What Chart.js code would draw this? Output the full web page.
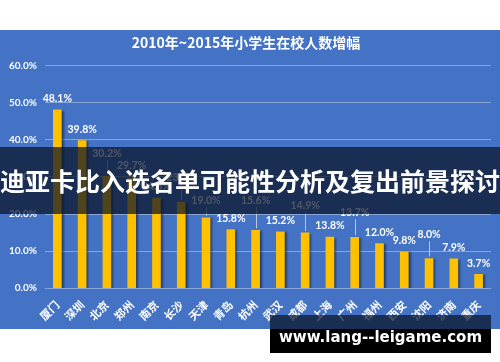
<!DOCTYPE html>
<html lang="zh">
<head>
	<meta charset="UTF-8">
	<title>小学生在校人数增幅</title>
	<script src="https://cdn.jsdelivr.net/npm/chart.js@4.4.0/dist/chart.umd.min.js"></script>
	<style>
		body{margin:0;width:500px;height:362px;background:#fff;position:relative;overflow:hidden;font-family:"Noto Sans CJK SC",sans-serif;}
		#box{position:absolute;left:0;top:30px;width:500px;height:299px;background:#4472C4;}
		#banner{position:absolute;left:0;top:147px;width:500px;height:67px;background:rgba(10,20,40,0.72);
			color:#fff;font:bold 25px "Noto Sans CJK SC";line-height:67px;text-align:center;white-space:nowrap;}
		#mark{position:absolute;left:270px;top:315px;width:221px;height:38px;
			background:linear-gradient(to bottom,rgba(10,20,40,0.72) 0,rgba(10,20,40,0.72) 14px,#000 14px);
			color:#fff;font:bold 15px "DejaVu Sans";line-height:44px;text-align:center;white-space:nowrap;}
	</style>
</head>
<body>
	<div id="box"><canvas id="chart"></canvas></div>
	<div id="banner">迪亚卡比入选名单可能性分析及复出前景探讨</div>
	<div id="mark">www.lang--leigame.com</div>

	<script>

		var title="2010年~2015年小学生在校人数增幅";
		var cities=["厦门","深圳","北京","郑州","南京","长沙","天津","青岛","杭州","武汉","成都","上海","广州","福州","西安","沈阳","济南","重庆"];
		var growth=[48.1,39.8,30.2,29.7,24.3,23.2,19.0,15.8,15.6,15.2,14.9,13.8,13.7,12.0,9.8,8.0,7.9,3.7];
		var yTicks=[0,10,20,30,40,50,60];

		// extra lift (px) for labels that sit on a leader line
		var lift=[0,0,12,1,0,14,6,0,19,0,16,0,14,0,0,13,0,0];

		var shadow={
			id:"shadow",
			beforeDatasetsDraw:function(chart){
				var ctx=chart.ctx;
				ctx.save();
				ctx.shadowColor="rgba(0,0,0,0.45)";
				ctx.shadowOffsetX=2;
				ctx.shadowOffsetY=1;
				ctx.shadowBlur=2;
			},
			afterDatasetsDraw:function(chart){
				chart.ctx.restore();
			}
		};

		var barLabels={
			id:"barLabels",
			afterDatasetsDraw:function(chart){
				var ctx=chart.ctx,
					meta=chart.getDatasetMeta(0);
				ctx.save();
				ctx.font="bold 10.5px Lato";
				ctx.fillStyle="#fff";
				ctx.textAlign="center";
				ctx.textBaseline="middle";
				meta.data.forEach(function(bar,i){
					var y=bar.y-11-lift[i];
					if(lift[i]>4) {
						ctx.strokeStyle="rgba(210,220,235,0.8)";
						ctx.lineWidth=1;
						ctx.beginPath();
						ctx.moveTo(Math.round(bar.x)+0.5,y+7);
						ctx.lineTo(Math.round(bar.x)+0.5,bar.y-2);
						ctx.stroke();
					}
					ctx.fillText(growth[i].toFixed(1)+"%",bar.x,y);
				});
				ctx.restore();
			}
		};

		new Chart(document.getElementById("chart"),{
			type:"bar",
			data:{
				labels:cities,
				datasets:[{
					data:growth,
					backgroundColor:"#FFC000",
					barThickness:8
				}]
			},
			options:{
				responsive:true,
				maintainAspectRatio:false,
				animation:false,
				layout:{padding:{left:1,right:9,top:0,bottom:4}},
				plugins:{
					legend:{display:false},
					tooltip:{enabled:false},
					title:{
						display:true,
						text:title,
						color:"#fff",
						font:{family:"Noto Sans CJK SC",size:14,weight:"bold"},
						padding:{top:4,bottom:15}
					}
				},
				scales:{
					x:{
						grid:{display:false},
						border:{display:false},
						ticks:{
							color:"#fff",
							maxRotation:45,
							minRotation:45,
							autoSkip:false,
							padding:2,
							font:{family:"Noto Sans CJK SC",size:11,weight:"bold"}
						}
					},
					y:{
						min:0,
						max:60,
						afterBuildTicks:function(axis){
							axis.ticks=yTicks.map(function(v){return {value:v};});
						},
						grid:{color:"rgba(220,228,242,0.45)",drawTicks:false},
						border:{display:false},
						ticks:{
							color:"#fff",
							padding:8,
							font:{family:"Lato",size:10,weight:"bold"},
							callback:function(v){return v.toFixed(1)+"%";}
						}
					}
				}
			},
			plugins:[shadow,barLabels]
		});

	</script>
</body>
</html>
